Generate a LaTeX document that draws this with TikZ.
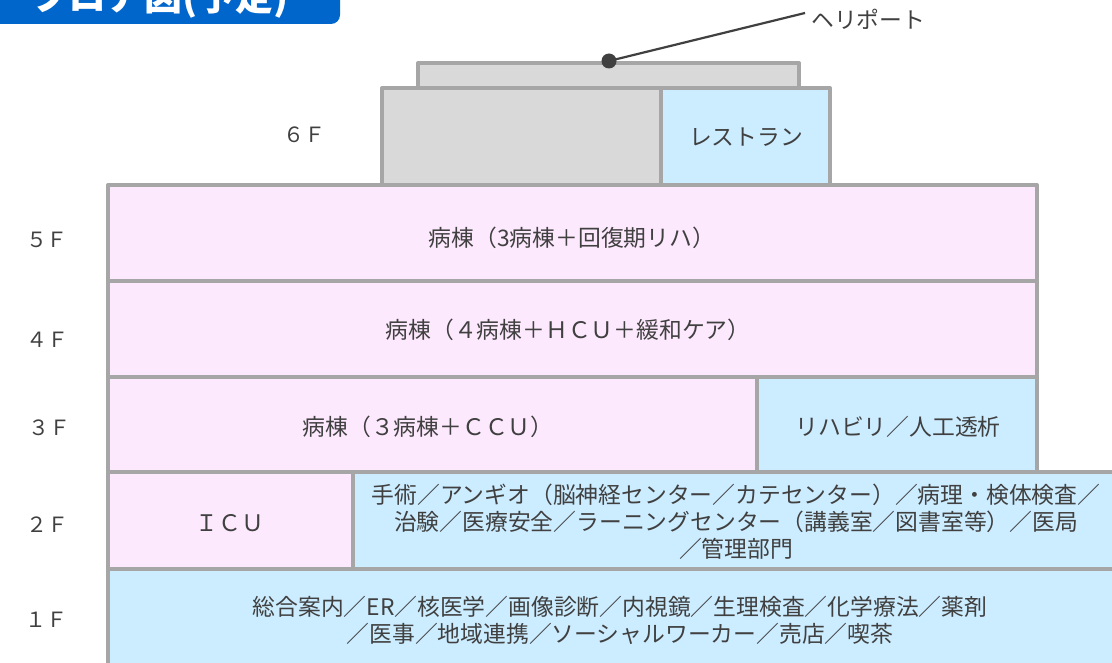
\documentclass[tikz,border=0pt]{standalone}
\usepackage{fontspec}
\setmainfont{Noto Sans CJK JP}
\definecolor{wallgray}{HTML}{A6A6A6}
\definecolor{roofgray}{HTML}{D9D9D9}
\definecolor{wardpink}{HTML}{FDE9FD}
\definecolor{roomblue}{HTML}{CCECFF}
\definecolor{bannerblue}{HTML}{0066CC}
\definecolor{txt}{HTML}{404040}
\begin{document}
\begin{tikzpicture}[x=1pt,y=-1pt,
  wall/.style={draw=wallgray,line width=4pt,line join=round},
  lbl/.style={text=txt,font=\fontsize{22.8}{27}\selectfont,align=center,inner sep=0pt},
  flr/.style={text=txt,font=\fontsize{21}{24}\selectfont,inner sep=0pt}]
\useasboundingbox (0,0) rectangle (1112,663);
\clip (0,0) rectangle (1112,663);
% banner
\fill[bannerblue,rounded corners=9pt] (-20,-40) rectangle (340,24);
\node[text=white,font=\bfseries\fontsize{38}{38}\selectfont,anchor=base,inner sep=0pt] (title) at (160,11) {フロア図(予定)};
% heliport slab
\path[wall,fill=roofgray] (418,63) rectangle (799,88);
% 6F
\path[wall,fill=roofgray] (382,88) rectangle (661,185);
\path[wall,fill=roomblue] (661,88) rectangle (830,185);
\node[lbl] (rest) at (746,137) {レストラン};
% 5F
\path[wall,fill=wardpink] (108,185) rectangle (1037,281);
\node[lbl] (f5) at (572,238) {病棟（3病棟＋回復期リハ）};
% 4F
\path[wall,fill=wardpink] (108,281) rectangle (1037,377);
\node[lbl] (f4) at (568,330) {病棟（４病棟＋ＨＣＵ＋緩和ケア）};
% 3F
\path[wall,fill=wardpink] (108,377) rectangle (757,472);
\path[wall,fill=roomblue] (757,377) rectangle (1037,472);
\node[lbl] (f3a) at (428,427) {病棟（３病棟＋ＣＣＵ）};
\node[lbl] (f3b) at (898,427) {リハビリ／人工透析};
% 2F
\path[wall,fill=wardpink] (108,472) rectangle (353,569);
\path[wall,fill=roomblue] (353,472) rectangle (1130,569);
\node[lbl] (icu) at (230,523) {ＩＣＵ};
\node[lbl] (f2) at (736,522) {手術／アンギオ（脳神経センター／カテセンター）／病理・検体検査／\\治験／医療安全／ラーニングセンター（講義室／図書室等）／医局\\／管理部門};
% 1F
\path[wall,fill=roomblue] (108,569) rectangle (1130,690);
\node[lbl] (f1) at (620,620) {総合案内／ER／核医学／画像診断／内視鏡／生理検査／化学療法／薬剤\\／医事／地域連携／ソーシャルワーカー／売店／喫茶};
% heliport pointer
\node[circle,fill=txt,inner sep=0pt,minimum size=15pt] (dot) at (609,61) {};
\coordinate (helipt) at (805,13);
\node[lbl,anchor=west] (heli) at (811,19) {ヘリポート};
\draw[txt,line width=2.2pt] (dot.center) -- (helipt);
% floor labels
\node[flr] (l6) at (304,135) {６Ｆ};
\node[flr] (l5) at (47,240) {５Ｆ};
\node[flr] (l4) at (48,340) {４Ｆ};
\node[flr] (l3) at (49,428) {３Ｆ};
\node[flr] (l2) at (48,525) {２Ｆ};
\node[flr] (l1) at (46,620) {１Ｆ};
\end{tikzpicture}
\end{document}
